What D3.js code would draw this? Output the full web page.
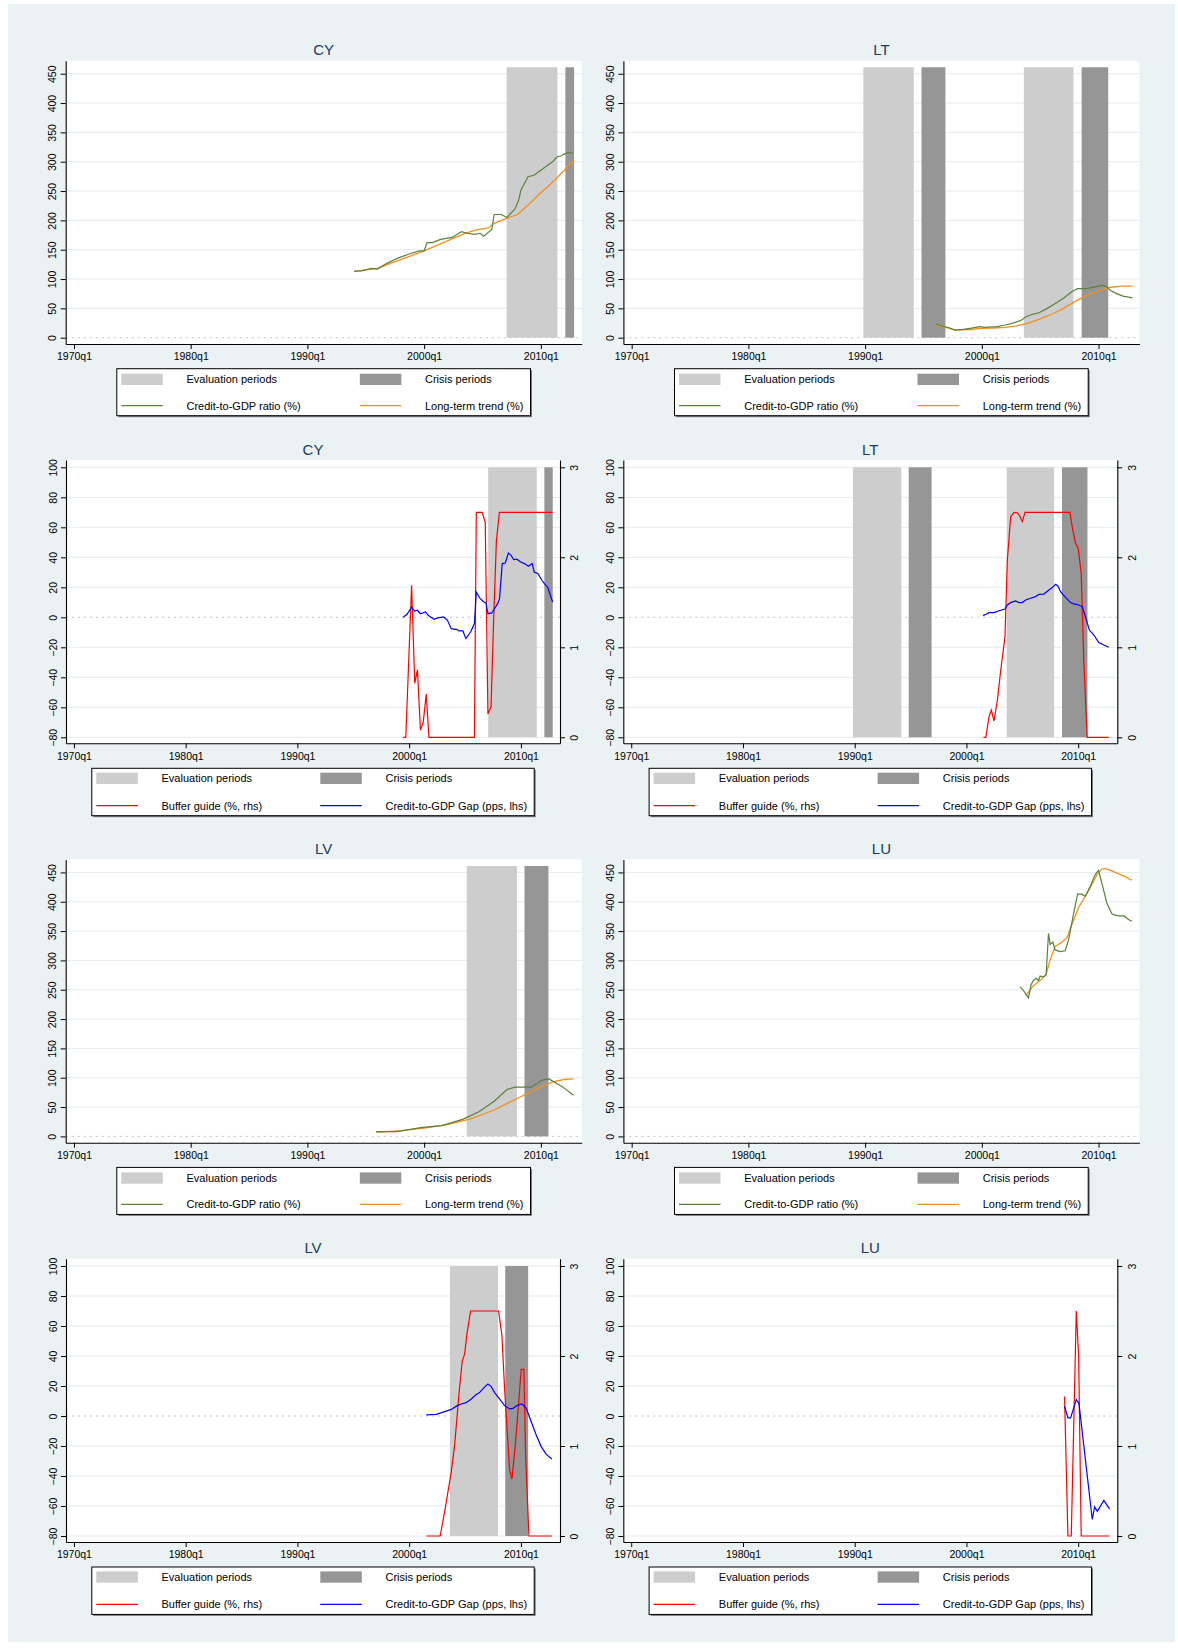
<!DOCTYPE html>
<html>
<head>
<meta charset="utf-8">
<script src="https://cdn.jsdelivr.net/npm/d3@7"></script>
<style>
  body { margin: 0; background: #fff; }
  svg text { font-family: "Liberation Sans", Arial, Helvetica, sans-serif; }
</style>
</head>
<body>
<svg id="chart" width="1178" height="1648"></svg>
<script>
// ---- data ----
const xTickYears = [1970, 1980, 1990, 2000, 2010];
const ratioTicks = [0, 50, 100, 150, 200, 250, 300, 350, 400, 450];
const gapTicks = [-80, -60, -40, -20, 0, 20, 40, 60, 80, 100];
const bufferTicks = [0, 1, 2, 3];

const ratioLegend = ['Evaluation periods', 'Crisis periods', 'Credit-to-GDP ratio (%)', 'Long-term trend (%)'];
const gapLegend = ['Evaluation periods', 'Crisis periods', 'Buffer guide (%, rhs)', 'Credit-to-GDP Gap (pps, lhs)'];

// evaluation / crisis windows [start, end] in decimal years
const cyEval = [[2007.07, 2011.42]];
const cyCrisis = [[2012.1, 2012.85]];
const ltEval = [[1989.85, 1994.17], [2003.6, 2007.85]];
const ltCrisis = [[1994.83, 1996.88], [2008.55, 2010.83]];
const lvEval = [[2003.65, 2007.95]];
const lvCrisis = [[2008.6, 2010.65]];
const luEval = [];
const luCrisis = [];

// credit-to-GDP ratio and long-term trend, [year, %]
const cyRatio = [[1994.0, 113.6], [1994.65, 114], [1995.5, 118], [1996.0, 117], [1996.3, 121], [1996.8, 126.7],
  [1997.8, 136], [1998.9, 144], [1999.6, 148], [2000.0, 148], [2000.25, 162], [2000.7, 162], [2001.4, 167.6],
  [2002.4, 171], [2003.2, 180.7], [2003.7, 178], [2004.3, 176], [2004.8, 178], [2005.1, 173], [2005.8, 184.7],
  [2006.0, 210], [2006.6, 210], [2007.1, 205], [2007.8, 220], [2008.1, 234.7], [2008.3, 251.7], [2008.9, 274.4],
  [2009.4, 277], [2010.2, 288.6], [2011.0, 300], [2011.4, 308.5], [2011.7, 309.7], [2012.0, 313], [2012.4, 316],
  [2012.75, 314]];
const cyTrend = [[1994.0, 113], [1996, 118], [1998, 133], [2000, 148], [2002, 165], [2003.5, 178], [2004.5, 184],
  [2005.5, 187], [2006, 195], [2007, 203], [2008, 210], [2009, 228], [2010, 247], [2011, 265], [2012, 285],
  [2012.75, 302]];

const ltRatio = [[1996.07, 23.3], [1996.56, 19.9], [1997.2, 17], [1997.7, 13], [1998.4, 14.2], [1999.0, 16],
  [1999.85, 18.75], [2000.2, 17.6], [2001.3, 18.75], [2002.0, 21.6], [2002.6, 24.4], [2003.3, 29], [2003.8, 35.8],
  [2004.4, 40.3], [2004.9, 42.6], [2005.6, 50], [2006.4, 59.7], [2007.06, 68], [2007.7, 78.4], [2008.2, 83.5],
  [2008.9, 83.5], [2009.5, 85.8], [2010.3, 89.2], [2010.7, 87], [2011.0, 81], [2011.5, 75.6], [2012.1, 71],
  [2012.9, 68]];
const ltTrend = [[1996.07, 21], [1997, 17], [1997.7, 13], [1999, 14], [2000, 16], [2001, 16.5], [2002, 17.5],
  [2003, 20], [2004, 25], [2005, 32], [2006, 40], [2007, 50], [2008, 62], [2009, 72], [2010, 80], [2011, 86],
  [2012, 88], [2012.9, 88]];

const lvRatio = [[1995.9, 8], [1997.7, 8], [1999.7, 15], [2001.5, 18.5], [2003.3, 29], [2004.7, 42], [2006.0, 60],
  [2007.1, 80], [2007.8, 84], [2009.2, 84], [2010.1, 96], [2010.7, 98], [2011.9, 84], [2012.8, 70]];
const lvTrend = [[1995.9, 7], [1998, 10], [2000, 14], [2002, 20], [2004, 30], [2006, 45], [2008, 65], [2010, 84],
  [2011, 93], [2012, 97], [2012.8, 98]];

const luRatio = [[2003.28, 254.8], [2003.62, 247.3], [2003.99, 236.2], [2004.22, 258.5], [2004.43, 265.9],
  [2004.65, 269.6], [2004.85, 265.9], [2005.0, 273.3], [2005.28, 271.8], [2005.51, 275.5], [2005.71, 346],
  [2005.85, 327.5], [2006.08, 331.2], [2006.28, 317.9], [2006.71, 314.9], [2007.14, 316.4], [2007.43, 335],
  [2007.86, 379.5], [2008.2, 412.9], [2008.57, 412.9], [2008.86, 409.2], [2009.29, 426.2], [2009.71, 446.3],
  [2010.0, 453.7], [2010.29, 431.4], [2010.71, 398], [2011.14, 379.5], [2011.43, 377.2], [2011.72, 375.8],
  [2012.2, 375.8], [2012.57, 369.8], [2012.86, 366.9]];
const luTrend = [[2003.75, 240], [2004.43, 257], [2005.0, 266], [2005.5, 275.5], [2005.85, 301], [2006.28, 324],
  [2006.85, 331], [2007.3, 338.6], [2007.7, 361], [2008.3, 390.6], [2008.86, 409], [2009.29, 424], [2009.86, 446],
  [2010.29, 456], [2010.71, 456], [2011.29, 451.5], [2012.14, 444], [2012.86, 436.6]];

// credit-to-GDP gap (pps, lhs) and buffer guide (%, rhs), [year, value]
const cyGap = [[1999.46, 0], [1999.81, 2], [2000.22, 6.9], [2000.5, 4.2], [2000.74, 4.7], [2001.01, 2.4],
  [2001.46, 3.6], [2001.7, 1.3], [2002.22, -1.3], [2002.56, -0.4], [2003.08, 0.2], [2003.43, -2], [2003.77, -7.6],
  [2004.29, -8.2], [2004.46, -9.1], [2004.81, -9.1], [2005.08, -14.2], [2005.5, -9.8], [2005.84, -4.2],
  [2006.01, 16.9], [2006.36, 12.4], [2006.7, 10.2], [2006.88, 9.6], [2007.05, 2.4], [2007.4, 2.9], [2007.92, 9.1],
  [2008.09, 12.4], [2008.33, 35.8], [2008.6, 36.2], [2008.88, 42.9], [2009.12, 41.3], [2009.36, 38.4],
  [2009.63, 38.7], [2009.98, 36.9], [2010.32, 35.8], [2010.67, 34], [2011.01, 35.8], [2011.19, 30.2],
  [2011.53, 29], [2011.88, 24.7], [2012.22, 21.3], [2012.39, 20.2], [2012.84, 10.2]];
const cyBuffer = [[1999.46, 0], [1999.7, 0], [2000.22, 1.69], [2000.5, 0.6], [2000.74, 0.75], [2001.01, 0.08],
  [2001.26, 0.17], [2001.53, 0.48], [2001.77, 0], [2005.84, 0], [2006.01, 2.5], [2006.53, 2.5], [2006.81, 2.39],
  [2007.05, 0.26], [2007.33, 0.34], [2007.57, 1.34], [2007.81, 2.19], [2008.08, 2.5], [2012.84, 2.5]];

const ltGap = [[2001.49, 1.1], [2001.79, 2.2], [2002.02, 3.1], [2002.47, 3.1], [2002.92, 4.4], [2003.45, 5.5],
  [2003.66, 8.2], [2003.96, 9.8], [2004.4, 10.9], [2004.7, 9.8], [2005.0, 9.8], [2005.3, 11.5], [2005.74, 12.7],
  [2006.19, 13.8], [2006.49, 15.3], [2006.93, 15.5], [2007.38, 18.2], [2007.68, 19.8], [2007.98, 22],
  [2008.18, 20.9], [2008.42, 17.1], [2008.87, 13.3], [2009.32, 9.8], [2009.61, 8.9], [2010.06, 8.2],
  [2010.36, 7.1], [2010.65, 0.4], [2011.0, -8.5], [2011.4, -11.8], [2011.85, -16.9], [2012.29, -18.5],
  [2012.74, -20]];
const ltBuffer = [[2001.52, 0], [2001.73, 0], [2002.02, 0.229], [2002.23, 0.303], [2002.47, 0.181],
  [2002.77, 0.414], [2003.07, 0.748], [2003.45, 1.118], [2003.66, 1.97], [2003.96, 2.45], [2004.26, 2.5],
  [2004.55, 2.495], [2004.76, 2.46], [2005.0, 2.396], [2005.24, 2.5], [2009.26, 2.5], [2009.46, 2.34],
  [2009.76, 2.155], [2010.0, 2.1], [2010.27, 1.822], [2010.5, 0.86], [2010.8, 0], [2012.74, 0]];

const lvGap = [[2001.53, 0.7], [2002.42, 1.1], [2003.17, 2.9], [2003.77, 4.4], [2004.3, 6.9], [2004.66, 8],
  [2005.1, 8.9], [2005.56, 11.3], [2005.95, 14], [2006.3, 15.6], [2006.7, 18.9], [2007.05, 21.3], [2007.35, 19.6],
  [2007.65, 15.6], [2008.1, 11.3], [2008.54, 6.9], [2008.99, 4.7], [2009.29, 5.1], [2009.73, 7.3], [2010.1, 8],
  [2010.48, 5.1], [2010.93, -3.8], [2011.37, -12.7], [2011.82, -20.4], [2012.27, -25.6], [2012.77, -28.7]];
const lvBuffer = [[2001.53, 0], [2002.78, 0], [2003.23, 0.307], [2003.77, 0.715], [2004.07, 1.01],
  [2004.45, 1.567], [2004.75, 1.944], [2004.96, 2.018], [2005.2, 2.27], [2005.5, 2.5], [2008.0, 2.5],
  [2008.3, 2.233], [2008.54, 1.64], [2008.78, 1.159], [2008.99, 0.733], [2009.2, 0.633], [2009.5, 1.01],
  [2009.8, 1.48], [2010.03, 1.852], [2010.27, 1.852], [2010.42, 0.9], [2010.72, 0], [2012.77, 0]];

const luGap = [[2008.78, 6.5], [2009.08, -1.3], [2009.32, -1.3], [2009.83, 10.9], [2010.07, 8.3],
  [2011.26, -69], [2011.47, -60.6], [2011.71, -63.5], [2012.3, -56.3], [2012.81, -62.1]];
const luBuffer = [[2008.78, 1.55], [2009.08, 0], [2009.38, 0], [2009.83, 2.5], [2010.04, 2.0], [2010.27, 0],
  [2012.81, 0]];

// ---- styling ----
const colors = {
  bg: '#eaf2f3', grid: '#e3ebed', evalBar: '#cdcdcd', crisisBar: '#969696',
  ratio: '#5a8338', trend: '#f2901e', buffer: '#ff0000', gap: '#0000ff', title: '#1a3a63'
};
const xDomain = [1969.29, 2013.5];

const svg = d3.select('#chart');
svg.append('rect').attr('x', 8).attr('y', 4).attr('width', 1167).attr('height', 1638).attr('fill', colors.bg);

function drawBars(g, x, yLo, yHi, evalP, crisisP) {
  [[evalP, colors.evalBar], [crisisP, colors.crisisBar]].forEach(([p, c]) => {
    g.append('g').selectAll('rect').data(p).join('rect')
      .attr('x', d => x(d[0]))
      .attr('width', d => x(d[1]) - x(d[0]))
      .attr('y', yHi)
      .attr('height', yLo - yHi)
      .attr('fill', c);
  });
}

function drawGrid(g, y, ticks, x0, x1) {
  g.append('g').selectAll('line').data(ticks.filter(t => t !== 0)).join('line')
    .attr('x1', x0).attr('x2', x1)
    .attr('y1', d => y(d)).attr('y2', d => y(d))
    .attr('stroke', colors.grid).attr('stroke-width', 1);
}

function zeroLine(g, y, x0, x1) {
  g.append('line').attr('x1', x0).attr('x2', x1).attr('y1', y(0)).attr('y2', y(0))
    .attr('stroke', '#b2b2b2').attr('stroke-width', 0.8).attr('stroke-dasharray', '2,4');
}

function styleAxis(a) {
  a.select('.domain').attr('stroke', '#000').attr('stroke-width', 1.1);
  a.selectAll('.tick line').attr('stroke', '#000');
  a.selectAll('text').attr('fill', '#000');
}

function xAxis(g, x, bottom) {
  const a = g.append('g').attr('transform', `translate(0,${bottom})`)
    .call(d3.axisBottom(x).tickValues(xTickYears).tickFormat(d => `${d}q1`).tickSize(5).tickSizeOuter(0).tickPadding(4));
  a.selectAll('text').attr('font-size', 10.5).attr('dy', '0.71em');
  styleAxis(a);
}

function yAxis(g, y, ticks, xPos, side) {
  const gen = side === 'left' ? d3.axisLeft(y) : d3.axisRight(y);
  const a = g.append('g').attr('transform', `translate(${xPos},0)`)
    .call(gen.tickValues(ticks).tickFormat(d3.format('d')).tickSize(5).tickSizeOuter(0));
  const off = side === 'left' ? -13.2 : 14.3;
  a.selectAll('text')
    .attr('x', null).attr('dy', null)
    .attr('transform', `translate(${off},0) rotate(-90)`)
    .attr('text-anchor', 'middle')
    .attr('dominant-baseline', 'central')
    .attr('font-size', 10.5);
  styleAxis(a);
}

function title(g, text, cx, top) {
  g.append('text').attr('x', cx).attr('y', top - 5.5).attr('text-anchor', 'middle')
    .attr('font-size', 15).attr('fill', colors.title).text(text);
}

function legend(g, labels, lineColors, box) {
  const { left, top, width, height, c2, rows } = box;
  g.append('rect').attr('x', left + 1.5).attr('y', top + 1.5).attr('width', width).attr('height', height)
    .attr('fill', '#7a7a7a');
  g.append('rect').attr('x', left).attr('y', top).attr('width', width).attr('height', height)
    .attr('fill', '#fff').attr('stroke', '#000').attr('stroke-width', 1);
  const cols = [left + 4.5, left + c2];
  [colors.evalBar, colors.crisisBar].forEach((c, i) => {
    g.append('rect').attr('x', cols[i]).attr('y', top + rows[0] - 5.6).attr('width', 41.5).attr('height', 11.3)
      .attr('fill', c);
  });
  lineColors.forEach((c, i) => {
    g.append('line').attr('x1', cols[i]).attr('x2', cols[i] + 41.5)
      .attr('y1', top + rows[1]).attr('y2', top + rows[1])
      .attr('stroke', c).attr('stroke-width', 1.2);
  });
  labels.forEach((t, i) => {
    g.append('text').attr('x', cols[i % 2] + 65.2).attr('y', top + rows[Math.floor(i / 2)])
      .attr('dominant-baseline', 'central').attr('font-size', 11).attr('fill', '#000').text(t);
  });
}

const line = (x, y) => d3.line().x(d => x(d[0])).y(d => y(d[1]));

function ratioPanel(name, ox, oy, ratio, trend, evalP, crisisP) {
  const g = svg.append('g');
  const L = 65.7 + ox, R = 581.7 + ox, T = 60.7 + oy, B = 344 + oy;
  const x = d3.scaleLinear().domain(xDomain).range([L, R]);
  const y = d3.scaleLinear().domain([-10.74, 472.2]).range([B, T]);
  g.append('rect').attr('x', L).attr('y', T).attr('width', R - L).attr('height', B - T).attr('fill', '#fff');
  drawGrid(g, y, ratioTicks, L, R);
  zeroLine(g, y, L, R);
  drawBars(g, x, y(0), y(461), evalP, crisisP);
  g.append('path').datum(trend).attr('d', line(x, y)).attr('fill', 'none')
    .attr('stroke', colors.trend).attr('stroke-width', 1.3);
  g.append('path').datum(ratio).attr('d', line(x, y)).attr('fill', 'none')
    .attr('stroke', colors.ratio).attr('stroke-width', 1.2);
  xAxis(g, x, B);
  yAxis(g, y, ratioTicks, L, 'left');
  title(g, name, (L + R) / 2, T);
  const cx = (L + R) / 2;
  legend(g, ratioLegend, [colors.ratio, colors.trend],
    { left: cx - 206.9, top: B + 24.7, width: 413.7, height: 47, c2: 243, rows: [10.6, 37] });
}

function gapPanel(name, ox, oy, gap, buffer, evalP, crisisP) {
  const g = svg.append('g');
  const L = 66 + ox, R = 560 + ox, T = 460 + oy, B = 743.3 + oy;
  const x = d3.scaleLinear().domain(xDomain).range([L, R]);
  const y = d3.scaleLinear().domain([-84, 104.87]).range([B, T]);
  const y2 = d3.scaleLinear().domain([-0.0667, 3.0811]).range([B, T]);
  g.append('rect').attr('x', L).attr('y', T).attr('width', R - L).attr('height', B - T).attr('fill', '#fff');
  drawGrid(g, y, gapTicks, L, R);
  zeroLine(g, y, L, R);
  drawBars(g, x, y(-80), y(100), evalP, crisisP);
  g.append('path').datum(buffer).attr('d', line(x, y2)).attr('fill', 'none')
    .attr('stroke', colors.buffer).attr('stroke-width', 1.2);
  g.append('path').datum(gap).attr('d', line(x, y)).attr('fill', 'none')
    .attr('stroke', colors.gap).attr('stroke-width', 1.2);
  xAxis(g, x, B);
  yAxis(g, y, gapTicks, L, 'left');
  yAxis(g, y2, bufferTicks, R, 'right');
  title(g, name, (L + R) / 2, T);
  const cx = (L + R) / 2;
  legend(g, gapLegend, [colors.buffer, colors.gap],
    { left: cx - 221.2, top: B + 25, width: 442.4, height: 47.4, c2: 228.5, rows: [10, 37.4] });
}

ratioPanel('CY', 0, 0, cyRatio, cyTrend, cyEval, cyCrisis);
ratioPanel('LT', 557.7, 0, ltRatio, ltTrend, ltEval, ltCrisis);
gapPanel('CY', 0, 0, cyGap, cyBuffer, cyEval, cyCrisis);
gapPanel('LT', 557.3, 0, ltGap, ltBuffer, ltEval, ltCrisis);
ratioPanel('LV', 0, 798.7, lvRatio, lvTrend, lvEval, lvCrisis);
ratioPanel('LU', 557.7, 798.7, luRatio, luTrend, luEval, luCrisis);
gapPanel('LV', 0, 798.7, lvGap, lvBuffer, lvEval, lvCrisis);
gapPanel('LU', 557.3, 798.7, luGap, luBuffer, luEval, luCrisis);
</script>
</body>
</html>
